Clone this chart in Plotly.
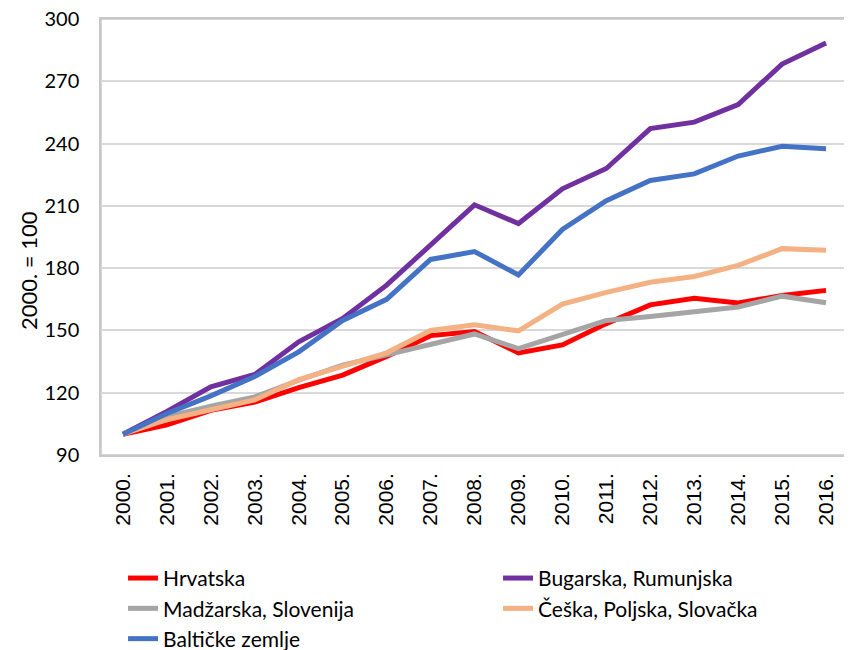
import plotly.graph_objects as go

years = ["2000.", "2001.", "2002.", "2003.", "2004.", "2005.", "2006.", "2007.", "2008.",
         "2009.", "2010.", "2011.", "2012.", "2013.", "2014.", "2015.", "2016."]

hrvatska = [100, 104.5, 111.5, 115.5, 122.5, 128.5, 137.5, 147.5, 149.5, 139.2, 143.0,
            153.3, 162.3, 165.5, 163.2, 166.8, 169.3]
bugarska_rumunjska = [100, 111, 122.8, 128.8, 144.5, 155.8, 171.8, 191.0, 210.5, 201.5,
                      218.2, 228.0, 247.2, 250.3, 258.8, 278.3, 288.4]
madzarska_slovenija = [100, 108.5, 113.5, 118, 126, 133.3, 138.2, 143.3, 148.3, 141.2,
                       148.3, 154.8, 156.7, 158.8, 161.3, 166.5, 163.3]
ceska_poljska_slovacka = [100, 107, 111.8, 116.5, 126.3, 132.8, 139.2, 150.0, 152.7,
                          149.8, 162.7, 168.3, 173.2, 176.0, 181.3, 189.4, 188.6]
balticke = [100, 110, 118.5, 127.8, 139.7, 154.8, 165.0, 184.2, 188.0, 176.7, 198.6,
            212.5, 222.2, 225.4, 234.0, 238.7, 237.5]

series = [
    ("Hrvatska", hrvatska, "#FF0000"),
    ("Bugarska, Rumunjska", bugarska_rumunjska, "#7030A0"),
    ("Madžarska, Slovenija", madzarska_slovenija, "#A5A5A5"),
    ("Češka, Poljska, Slovačka", ceska_poljska_slovacka, "#F4B183"),
    ("Baltičke zemlje", balticke, "#4472C4"),
]

y_ticks = [90, 120, 150, 180, 210, 240, 270, 300]
y_title = "2000. = 100"

fig = go.Figure()
for name, vals, color in series:
    fig.add_trace(go.Scatter(
        x=years, y=vals, name=name, mode="lines",
        line=dict(color=color, width=5),
    ))

font_family = "Lato, 'Open Sans', sans-serif"

fig.update_layout(
    width=844, height=642,
    margin=dict(l=93, r=4, t=11, b=195, autoexpand=False),
    plot_bgcolor="white", paper_bgcolor="white",
    font=dict(family=font_family, size=20, color="#000000"),
    showlegend=True,
    legend=dict(
        orientation="h", x=0.0295, xanchor="left", y=-0.236, yanchor="top",
        entrywidth=330, entrywidthmode="pixels",
        font=dict(size=21, family=font_family),
        tracegroupgap=0, traceorder="normal",
    ),
    xaxis=dict(
        type="category", range=[-0.5, 16.5],
        tickangle=-90, tickfont=dict(size=21, family="'Liberation Sans', Arial, sans-serif"),
        showgrid=False, showline=True, linecolor="#C8C8C8", linewidth=1.5,
        mirror=True, ticks="", automargin=False, ticklabelstandoff=8,
        ticklabeloverflow="allow",
    ),
    yaxis=dict(
        range=[90, 300], tickvals=y_ticks,
        showgrid=True, gridcolor="#D9D9D9", gridwidth=1.5,
        showline=True, linecolor="#C8C8C8", linewidth=1.5, mirror=True,
        ticks="", tickfont=dict(size=20), automargin=False, ticklabelstandoff=16,
        ticklabeloverflow="allow", zeroline=False,
    ),
    shapes=[dict(
        type="rect", xref="paper", yref="paper", x0=0, x1=1, y0=0, y1=1,
        line=dict(color="#C8C8C8", width=1.5), fillcolor="rgba(0,0,0,0)",
        layer="below",
    )],
    annotations=[dict(
        text=y_title, textangle=-90, showarrow=False,
        xref="paper", yref="paper", x=-0.0978, y=0.424,
        xanchor="center", yanchor="middle",
        font=dict(size=22, family=font_family),
    )],
)

fig.write_html("out.html")
